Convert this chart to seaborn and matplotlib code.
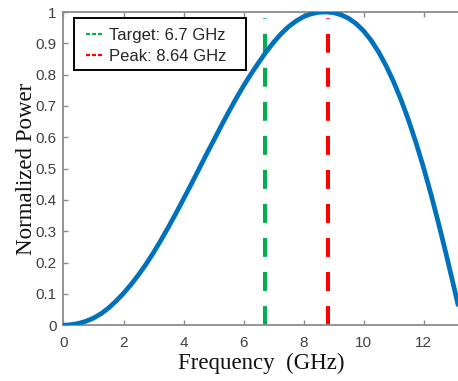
import numpy as np
import pandas as pd
import matplotlib
matplotlib.use("Agg")
import matplotlib.pyplot as plt
from matplotlib.lines import Line2D
from matplotlib.patches import Rectangle
import seaborn as sns

# Data
freq_ghz = [0.0, 0.25, 0.5, 0.75, 1.0, 1.25, 1.5, 1.75, 2.0, 2.25, 2.5, 2.75,
            3.0, 3.25, 3.5, 3.75, 4.0, 4.25, 4.5, 4.75, 5.0, 5.25, 5.5, 5.75,
            6.0, 6.25, 6.5, 6.75, 7.0, 7.25, 7.5, 7.75, 8.0, 8.25, 8.5, 8.75,
            9.0, 9.25, 9.5, 9.75, 10.0, 10.25, 10.5, 10.75, 11.0, 11.25, 11.5,
            11.75, 12.0, 12.25, 12.5, 12.75, 13.0, 13.15]
norm_power = [0.000, 0.002, 0.006, 0.013, 0.023, 0.037, 0.055, 0.077, 0.102,
              0.130, 0.161, 0.195, 0.232, 0.272, 0.314, 0.358, 0.403, 0.449,
              0.496, 0.543, 0.589, 0.635, 0.680, 0.723, 0.764, 0.802, 0.838,
              0.872, 0.903, 0.930, 0.953, 0.971, 0.985, 0.994, 0.999, 1.000,
              0.998, 0.991, 0.980, 0.963, 0.940, 0.910, 0.873, 0.829, 0.778,
              0.720, 0.655, 0.583, 0.504, 0.418, 0.326, 0.229, 0.128, 0.066]
target_freq = 6.7
peak_line_freq = 8.8
line_top = 0.982
legend_labels = ["Target: 6.7 GHz", "Peak: 8.64 GHz"]
x_ticks = [0, 2, 4, 6, 8, 10, 12]
y_ticks = [0, 0.1, 0.2, 0.3, 0.4, 0.5, 0.6, 0.7, 0.8, 0.9, 1.0]
y_ticklabels = ["0", "0.1", "0.2", "0.3", "0.4", "0.5", "0.6", "0.7", "0.8", "0.9", "1"]

df = pd.DataFrame({"freq": freq_ghz, "power": norm_power})

sns.set_style("white")
plt.rcParams["font.family"] = ["Liberation Sans", "DejaVu Sans"]

W, H, DPI = 458, 381, 100
fig = plt.figure(figsize=(W / DPI, H / DPI), dpi=DPI)
left, right, top, bottom = 63.5, 458, 12, 325.3
aw, ah = right - left, bottom - top
ax = fig.add_axes([left / W, 1 - bottom / H, aw / W, ah / H])

blue = "#0072BD"
green = "#00B050"
red = "#FF0000"

sns.lineplot(data=df, x="freq", y="power", ax=ax, color=blue, linewidth=3.4,
             legend=False, zorder=3)

ax.plot([target_freq, target_freq], [0, line_top], color=green, linewidth=2.9,
        dashes=(4.7, 3.75), dash_capstyle="butt", zorder=2)
ax.plot([peak_line_freq, peak_line_freq], [0, line_top], color=red, linewidth=2.9,
        dashes=(4.7, 3.75), dash_capstyle="butt", zorder=2)

ax.set_xlim(0, aw / 30.0)
ax.set_ylim(0, 1)
ax.set_xticks(x_ticks)
ax.set_yticks(y_ticks)
ax.set_yticklabels(y_ticklabels)

spine_col = "#8c8c8c"
for s in ["left", "bottom", "top"]:
    ax.spines[s].set_color(spine_col)
    ax.spines[s].set_linewidth(1.3)
ax.spines["right"].set_visible(False)

ax.tick_params(axis="both", which="both", direction="in", length=3.5, width=1.0,
               color=spine_col, labelsize=11, labelcolor="#404040")
ax.tick_params(axis="x", top=True, bottom=True, pad=8)
ax.tick_params(axis="y", left=True, right=False, pad=5)

ax.set_xlabel("Frequency  (GHz)", fontfamily="Liberation Serif", fontsize=16.5,
              color="#111111", labelpad=2)
ax.set_ylabel("Normalized Power", fontfamily="Liberation Serif", fontsize=16.5,
              color="#111111", labelpad=-1)

# legend box (MATLAB style, extra right padding)
box = Rectangle(((74 - left) / aw, (bottom - 70) / ah), (246 - 74) / aw, (70 - 18) / ah,
                transform=ax.transAxes, facecolor="white", edgecolor="black",
                linewidth=1.4, zorder=5)
ax.add_patch(box)

handles = [Line2D([0], [0], color=green, linewidth=1.6, dashes=(1.8, 0.9)),
           Line2D([0], [0], color=red, linewidth=1.6, dashes=(1.8, 0.9))]
leg = ax.legend(handles, legend_labels, loc="upper left",
                bbox_to_anchor=((86 - left) / aw, 1 - (28 - top) / ah),
                borderaxespad=0, borderpad=0, frameon=False, fontsize=12,
                handlelength=1.0, handletextpad=0.4, labelspacing=0.35)
leg.set_zorder(6)

fig.savefig("out.png", dpi=DPI)
